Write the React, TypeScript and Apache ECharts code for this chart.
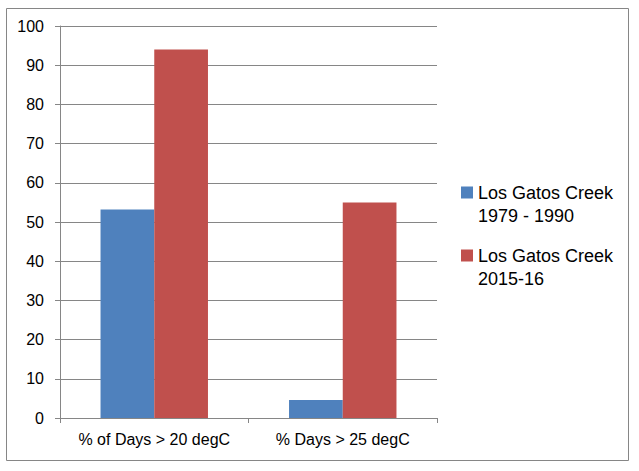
import React, { useEffect, useRef } from "react";
import * as echarts from "echarts";

const categories = ["% of Days > 20 degC", "% Days > 25 degC"];
const seriesNames = ["Los Gatos Creek\n1979 - 1990", "Los Gatos Creek\n2015-16"];
const values1979 = [53.2, 4.6];
const values2015 = [94, 55];
const colors = ["#4F81BD", "#C0504D"];

export default function App() {
  const ref = useRef<HTMLDivElement>(null);
  useEffect(() => {
    if (!ref.current) return;
    const chart = echarts.init(ref.current, null, { renderer: "svg" });
    const font = "'Liberation Sans', Arial, sans-serif";
    chart.setOption({
      animation: false,
      backgroundColor: "#ffffff",
      textStyle: { fontFamily: font },
      grid: { left: 60, top: 26, right: 202, bottom: 53, outerBoundsMode: "none" },
      legend: {
        orient: "vertical",
        left: 456,
        top: 153,
        icon: "rect",
        itemWidth: 12,
        itemHeight: 12,
        itemGap: -6,
        selectedMode: false,
        formatter: (name: string) => " \n" + name,
        textStyle: {
          fontSize: 18,
          color: "#000",
          fontFamily: font,
          lineHeight: 23,
        },
        data: seriesNames,
      },
      xAxis: {
        type: "category",
        data: categories,
        axisLine: { lineStyle: { color: "#868686" } },
        axisTick: { show: true, length: 5, lineStyle: { color: "#868686" } },
        axisLabel: { color: "#000", fontSize: 16, margin: 13, fontFamily: font, interval: 0 },
      },
      yAxis: {
        type: "value",
        min: 0,
        max: 100,
        interval: 10,
        axisLine: { show: true, lineStyle: { color: "#868686" } },
        axisTick: { show: true, length: 5, lineStyle: { color: "#868686" } },
        splitLine: { lineStyle: { color: "#868686" } },
        axisLabel: { color: "#000", fontSize: 16, margin: 16, fontFamily: font },
      },
      series: [
        {
          name: seriesNames[0],
          type: "bar",
          data: values1979,
          itemStyle: { color: colors[0] },
          barGap: "0%",
          barCategoryGap: "43%",
        },
        {
          name: seriesNames[1],
          type: "bar",
          data: values2015,
          itemStyle: { color: colors[1] },
          barGap: "0%",
          barCategoryGap: "43%",
        },
      ],
      graphic: [
        {
          type: "rect",
          shape: { x: 6.5, y: 8.5, width: 622, height: 452 },
          style: { fill: "none", stroke: "#868686", lineWidth: 1 },
          silent: true,
        },
      ],
    });
    return () => chart.dispose();
  }, []);
  return (
    <div
      ref={ref}
      style={{ position: "fixed", left: 0, top: 0, width: 639, height: 471 }}
    />
  );
}
